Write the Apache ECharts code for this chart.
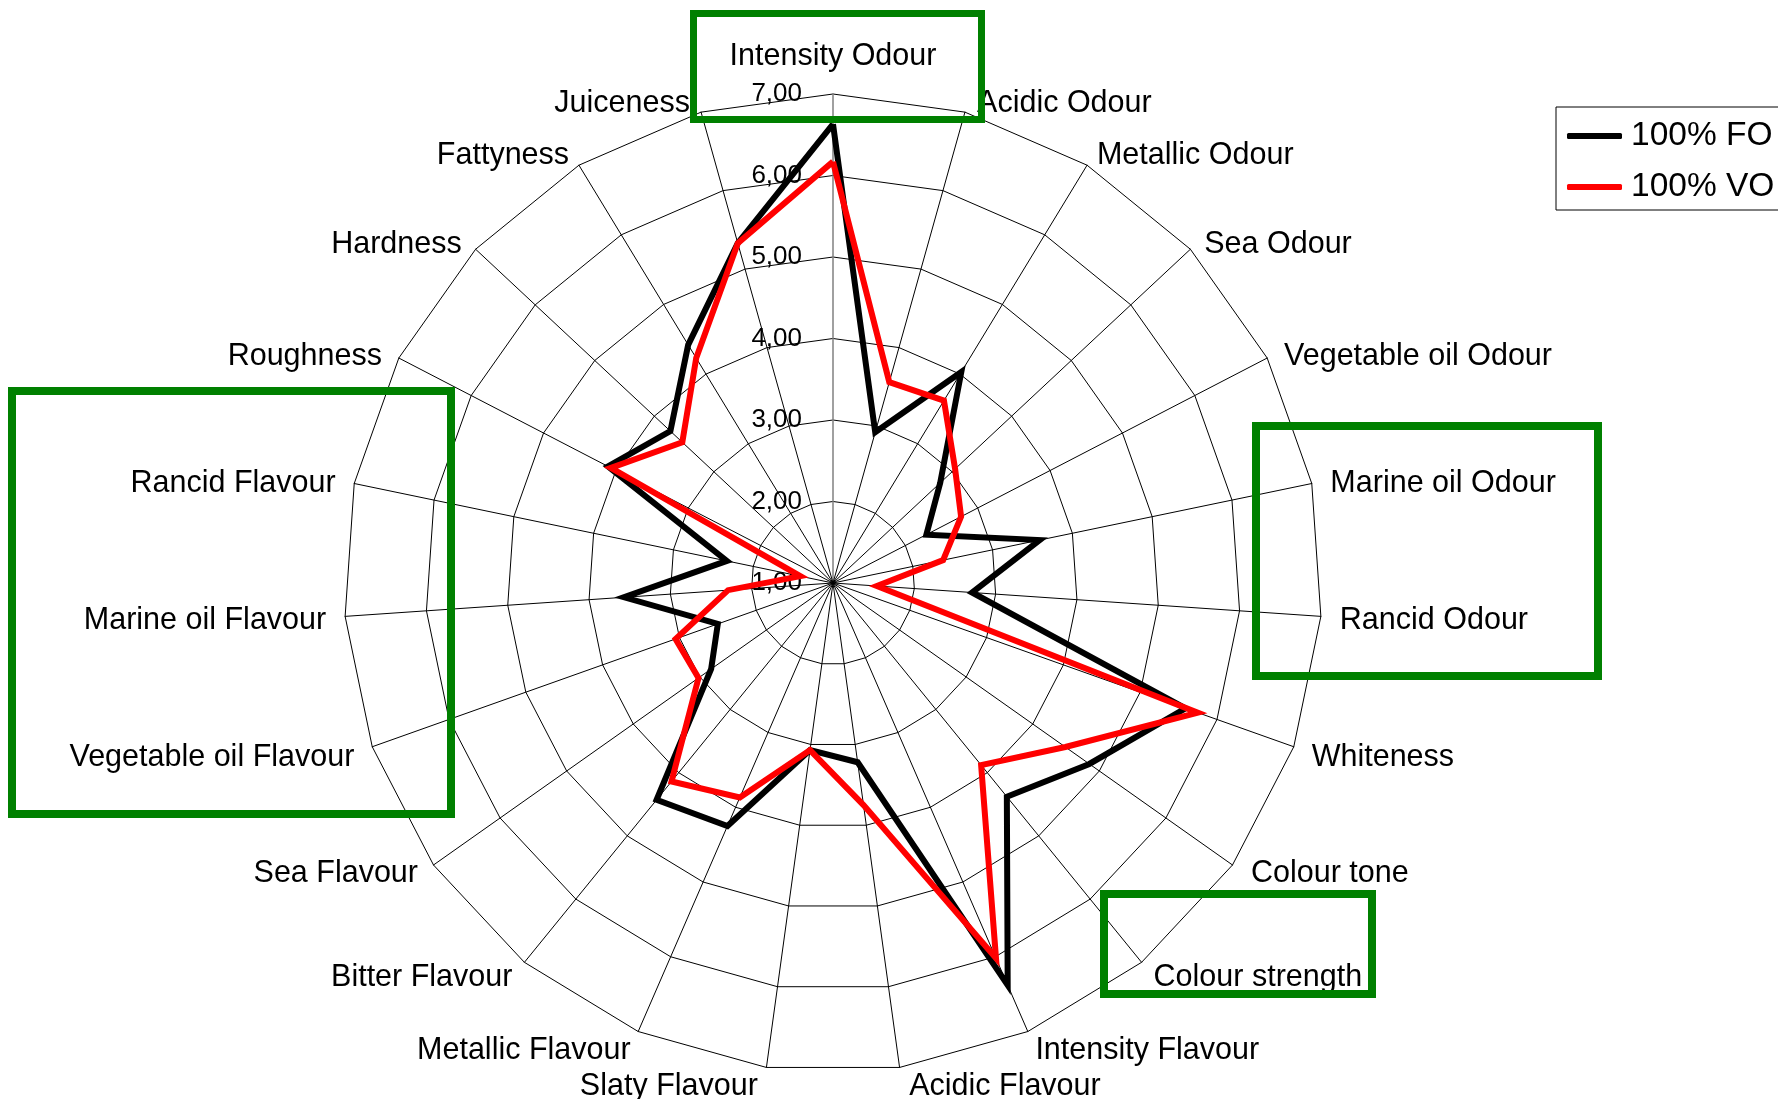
<!DOCTYPE html>
<html>
<head>
<meta charset="utf-8">
<script src="https://cdn.jsdelivr.net/npm/echarts@6/dist/echarts.min.js"></script>
<style>
  html, body { margin: 0; padding: 0; background: #fff; }
  #chart { width: 1778px; height: 1099px; }
</style>
</head>
<body>
<div id="chart"></div>
<script>
// attributes, clockwise from the top
const attributes = ['Intensity Odour', 'Acidic Odour', 'Metallic Odour', 'Sea Odour', 'Vegetable oil Odour',
    'Marine oil Odour', 'Rancid Odour', 'Whiteness', 'Colour tone', 'Colour strength', 'Intensity Flavour',
    'Acidic Flavour', 'Slaty Flavour', 'Metallic Flavour', 'Bitter Flavour', 'Sea Flavour',
    'Vegetable oil Flavour', 'Marine oil Flavour', 'Rancid Flavour', 'Roughness', 'Hardness',
    'Fattyness', 'Juiceness']
const fo100 = [6.63, 2.92, 4.03, 2.80, 2.29, 3.59, 2.71, 5.59, 4.85, 4.38, 6.38, 3.22, 3.07, 4.25, 4.43,
    2.83, 2.50, 3.57, 2.33, 4.11, 3.73, 4.42, 5.33]
const vo100 = [6.17, 3.56, 3.62, 3.05, 2.77, 2.38, 1.54, 5.75, 4.49, 3.88, 6.02, 3.75, 3.07, 3.87, 4.14,
    3.02, 3.05, 2.29, 1.41, 4.07, 3.53, 4.23, 5.33]
const seriesNames = ['100% FO', '100% VO']
const scaleMin = 1
const scaleMax = 7

// small nudges of the side attribute names in px: [down, right]
const nameNudge = {
    'Juiceness': [10, -6], 'Acidic Odour': [10, 7],
    'Fattyness': [7, 0], 'Metallic Odour': [7, 0],
    'Hardness': [8, 0], 'Sea Odour': [8, 0],
    'Roughness': [7, 0], 'Vegetable oil Odour': [7, 0],
    'Rancid Flavour': [4, 0], 'Marine oil Odour': [4, 0],
    'Marine oil Flavour': [2.5, 0], 'Rancid Odour': [2.5, 0],
    'Vegetable oil Flavour': [4.5, 0], 'Whiteness': [4.5, 0],
    'Sea Flavour': [-2, 0], 'Colour tone': [-2, 3],
    'Bitter Flavour': [1, 0], 'Colour strength': [1, 0],
    'Metallic Flavour': [2, 0], 'Intensity Flavour': [2, 0],
    'Slaty Flavour': [0, -6], 'Acidic Flavour': [0, 7]
}
const nameLineHeight = 36

// echarts lays radar axes out counter-clockwise, so walk the list backwards after the first one
const order = [0]
for (let i = attributes.length - 1; i > 0; i--) order.push(i)

const indicators = order.map((i) => {
    const name = attributes[i]
    const ind = { name: name, min: scaleMin, max: scaleMax }
    const n = nameNudge[name]
    if (n) {
        // plain text ignores vertical padding when middle aligned, so switch to top
        // alignment and pull it back up by half a line
        ind.nameTextStyle = {
            verticalAlign: 'top',
            padding: [n[0] - nameLineHeight / 2, -n[1], 0, n[1]]
        }
    }
    if (i === 0) {
        ind.axisLabel = { show: true }
        ind.axisLine = { lineStyle: { color: '#808080', width: 1.5 } }
    }
    return ind
})

const font = 'Liberation Sans, Arial, sans-serif'
const green = '#008000'

function box(x, y, w, h, lw) {
    return {
        type: 'rect',
        z: 100,
        shape: { x: x, y: y, width: w, height: h },
        style: { fill: 'none', stroke: green, lineWidth: lw }
    }
}

const cs = echarts.init(document.getElementById('chart'))
const option = {
    backgroundColor: '#fff',
    animation: false,
    legend: {
        orient: 'vertical',
        left: 1556,
        top: 107,
        data: seriesNames,
        icon: 'roundRect',
        itemWidth: 55,
        itemHeight: 6,
        itemGap: 17,
        padding: [12, 30, 6, 11],
        borderColor: '#000',
        borderWidth: 1,
        backgroundColor: '#fff',
        textStyle: { color: '#000', fontSize: 33.5, fontFamily: font, padding: [0, 0, 0, 4] }
    },
    radar: {
        center: [833, 583],
        radius: 489,
        startAngle: 90,
        shape: 'polygon',
        splitNumber: scaleMax - scaleMin,
        indicator: indicators,
        axisName: { color: '#000', fontSize: 30.5, fontFamily: font, lineHeight: nameLineHeight },
        nameGap: 19,
        axisLine: { show: true, lineStyle: { color: '#000', width: 1 } },
        axisTick: { show: false },
        axisLabel: {
            show: false,
            color: '#000',
            fontSize: 26,
            fontFamily: font,
            margin: 31,
            formatter: (v) => Number(v).toFixed(2).replace('.', ',')
        },
        splitLine: { lineStyle: { color: '#000', width: 1 } },
        splitArea: { show: false }
    },
    series: [{
        type: 'radar',
        symbol: 'none',
        data: [
            {
                name: seriesNames[0],
                value: order.map((i) => fo100[i]),
                itemStyle: { color: '#000' },
                lineStyle: { color: '#000', width: 6, join: 'miter' }
            },
            {
                name: seriesNames[1],
                value: order.map((i) => vo100[i]),
                itemStyle: { color: '#ff0000' },
                lineStyle: { color: '#ff0000', width: 6, join: 'miter' }
            }
        ]
    }],
    // green highlight frames around groups of attribute names
    graphic: [
        box(693.5, 13.5, 288, 106, 7),
        box(12, 391, 439, 423, 8),
        box(1256, 426, 342, 250, 8),
        box(1104, 894, 268, 100, 8)
    ]
}
cs.setOption(option)
</script>
</body>
</html>
